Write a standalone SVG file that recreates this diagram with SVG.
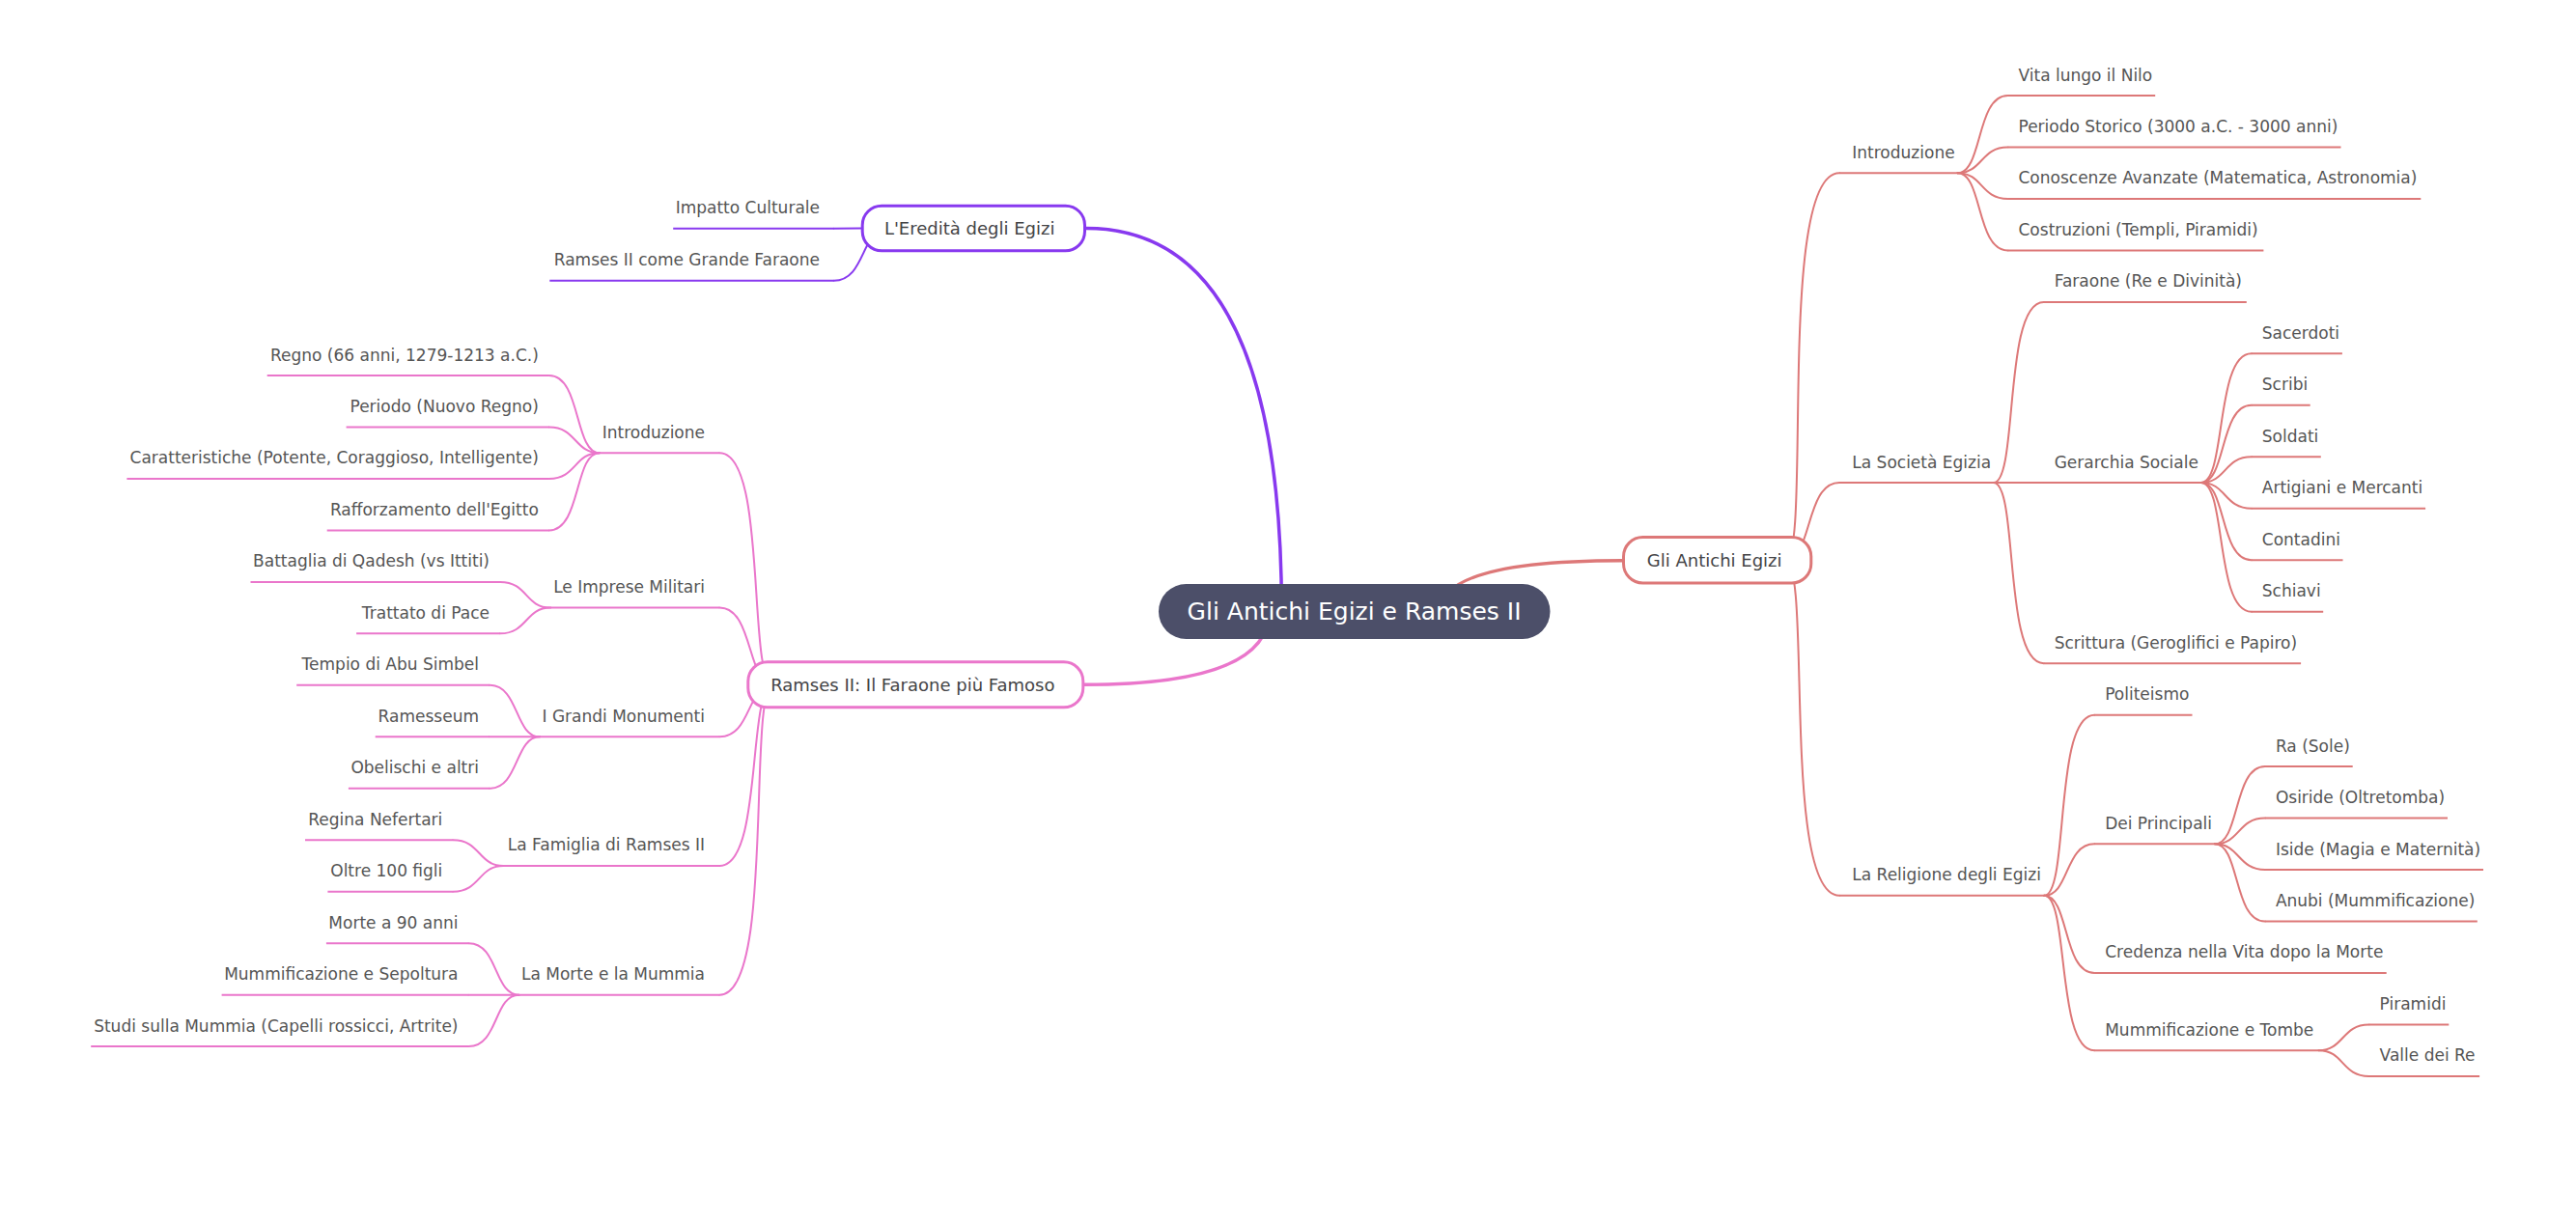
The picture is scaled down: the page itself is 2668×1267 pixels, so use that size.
<svg xmlns="http://www.w3.org/2000/svg" width="2668" height="1267" viewBox="0 0 2668 1267">
<style>
text{font-family:"DejaVu Sans","Liberation Sans",sans-serif;stroke:none}
.lk{fill:none;stroke-linecap:round}
.r{stroke:#dd7878}
.p{stroke:#ea76cb}
.v{stroke:#8839ef}
.main{stroke-width:3.5}
.sub{stroke-width:2}
.t{font-size:17px;fill:#555555}
.e{text-anchor:end}
.mt{font-size:18px;fill:#444446}
.box{fill:#ffffff;stroke-width:3}
</style>
<rect width="2668" height="1267" fill="#ffffff"/>
<g id="connectors">
<path class="lk main r" d="M1491.9 633.5 Q1491.9 580.75 1680 580.75"/>
<path class="lk main v" d="M1327.4 633.5 Q1327.4 236.4 1125 236.4"/>
<path class="lk main p" d="M1314.5 633.5 Q1314.5 709.3 1123.3 709.3"/>
<g class="lk sub r">
<path d="M1849 580.75 C1877 580.75 1839.5 179.2 1905 179.2"/>
<path d="M1849 580.75 C1877 580.75 1869.5 500 1905 500"/>
<path d="M1849 580.75 C1877 580.75 1844.6 927.8 1905 927.8"/>
<path d="M2027.5 179.2 C2053.5 179.2 2046.55 99 2079.5 99"/>
<path d="M2027.5 179.2 C2053.5 179.2 2051.2 152.47 2079.5 152.47"/>
<path d="M2027.5 179.2 C2053.5 179.2 2051.2 205.94 2079.5 205.94"/>
<path d="M2027.5 179.2 C2053.5 179.2 2046.55 259.41 2079.5 259.41"/>
<path d="M2064.7 500 C2090.7 500 2074.5 312.88 2116.7 312.88"/>
<path d="M2064.7 500 L2116.7 500"/>
<path d="M2064.7 500 C2090.7 500 2074.5 687.17 2116.7 687.17"/>
<path d="M2279.8 500 C2305.8 500 2294.2 366.35 2331.8 366.35"/>
<path d="M2279.8 500 C2305.8 500 2298.85 419.82 2331.8 419.82"/>
<path d="M2279.8 500 C2305.8 500 2303.5 473.29 2331.8 473.29"/>
<path d="M2279.8 500 C2305.8 500 2303.5 526.76 2331.8 526.76"/>
<path d="M2279.8 500 C2305.8 500 2298.85 580.23 2331.8 580.23"/>
<path d="M2279.8 500 C2305.8 500 2294.2 633.7 2331.8 633.7"/>
<path d="M2117.2 927.8 C2143.2 927.8 2127 740.64 2169.2 740.64"/>
<path d="M2117.2 927.8 C2143.2 927.8 2138.56 874.3 2169.2 874.3"/>
<path d="M2117.2 927.8 C2143.2 927.8 2136.25 1007.99 2169.2 1007.99"/>
<path d="M2117.2 927.8 C2143.2 927.8 2129.3 1088.2 2169.2 1088.2"/>
<path d="M2293.9 874.3 C2319.9 874.3 2312.95 794.11 2345.9 794.11"/>
<path d="M2293.9 874.3 C2319.9 874.3 2317.6 847.58 2345.9 847.58"/>
<path d="M2293.9 874.3 C2319.9 874.3 2317.6 901.05 2345.9 901.05"/>
<path d="M2293.9 874.3 C2319.9 874.3 2312.95 954.52 2345.9 954.52"/>
<path d="M2401.6 1088.2 C2427.6 1088.2 2425.3 1061.46 2453.6 1061.46"/>
<path d="M2401.6 1088.2 C2427.6 1088.2 2425.3 1114.93 2453.6 1114.93"/>
</g>
<g class="lk sub p">
<path d="M801.3 709.3 C773.3 709.3 795.7 469.2 745.3 469.2"/>
<path d="M801.3 709.3 C773.3 709.3 780.74 629.6 745.3 629.6"/>
<path d="M801.3 709.3 C773.3 709.3 778.34 763.29 745.3 763.29"/>
<path d="M801.3 709.3 C773.3 709.3 790.82 896.97 745.3 896.97"/>
<path d="M801.3 709.3 C773.3 709.3 803.29 1030.64 745.3 1030.64"/>
<path d="M620.8 469.2 C594.8 469.2 601.75 389 568.8 389"/>
<path d="M620.8 469.2 C594.8 469.2 597.1 442.47 568.8 442.47"/>
<path d="M620.8 469.2 C594.8 469.2 597.1 495.94 568.8 495.94"/>
<path d="M620.8 469.2 C594.8 469.2 601.75 549.41 568.8 549.41"/>
<path d="M570 629.6 C544 629.6 546.3 602.88 518 602.88"/>
<path d="M570 629.6 C544 629.6 546.3 656.35 518 656.35"/>
<path d="M559 763.29 C533 763.29 537.6 709.82 507 709.82"/>
<path d="M559 763.29 L507 763.29"/>
<path d="M559 763.29 C533 763.29 537.6 816.76 507 816.76"/>
<path d="M521.3 896.97 C495.3 896.97 497.6 870.23 469.3 870.23"/>
<path d="M521.3 896.97 C495.3 896.97 497.6 923.7 469.3 923.7"/>
<path d="M537.5 1030.64 C511.5 1030.64 516.1 977.17 485.5 977.17"/>
<path d="M537.5 1030.64 L485.5 1030.64"/>
<path d="M537.5 1030.64 C511.5 1030.64 516.1 1084.11 485.5 1084.11"/>
</g>
<g class="lk sub v">
<path d="M919.7 236.4 C891.7 236.4 891.7 236.7 863.7 236.7"/>
<path d="M919.7 236.4 C891.7 236.4 896.8 290.7 863.7 290.7"/>
</g>
</g>
<g id="root">
<rect x="1200" y="605" width="405.5" height="57" rx="28.5" fill="#4c4f69"/>
<text x="1402.6" y="642" font-size="25" fill="#ffffff" text-anchor="middle">Gli Antichi Egizi e Ramses II</text>
</g>
<g id="n-egizi">
<rect class="box r" x="1681.5" y="556.5" width="194.3" height="47.5" rx="20"/>
<text class="mt" x="1705.8" y="586.7">Gli Antichi Egizi</text>
</g>
<g id="n-ramses">
<rect class="box p" x="774.8" y="685.8" width="347" height="47" rx="20"/>
<text class="mt" x="798.2" y="716">Ramses II: Il Faraone più Famoso</text>
</g>
<g id="n-eredita">
<rect class="box v" x="893.2" y="213.2" width="230.3" height="46.5" rx="20"/>
<text class="mt" x="915.9" y="242.7">L'Eredità degli Egizi</text>
</g>
<g class="sub r">
<g id="r-intro"><line x1="1905" y1="179.2" x2="2027.5" y2="179.2"/><text class="t" x="1918.3" y="163.7">Introduzione</text></g>
<g id="r-vita"><line x1="2079.5" y1="99" x2="2232.2" y2="99"/><text class="t" x="2090.5" y="83.5">Vita lungo il Nilo</text></g>
<g id="r-periodo"><line x1="2079.5" y1="152.47" x2="2424.5" y2="152.47"/><text class="t" x="2090.5" y="136.97">Periodo Storico (3000 a.C. - 3000 anni)</text></g>
<g id="r-conoscenze"><line x1="2079.5" y1="205.94" x2="2507.3" y2="205.94"/><text class="t" x="2090.5" y="190.44">Conoscenze Avanzate (Matematica, Astronomia)</text></g>
<g id="r-costruzioni"><line x1="2079.5" y1="259.41" x2="2344.4" y2="259.41"/><text class="t" x="2090.5" y="243.91">Costruzioni (Templi, Piramidi)</text></g>
<g id="r-societa"><line x1="1905" y1="500" x2="2064.7" y2="500"/><text class="t" x="1918.3" y="484.5">La Società Egizia</text></g>
<g id="r-faraone"><line x1="2116.7" y1="312.88" x2="2326.8" y2="312.88"/><text class="t" x="2127.7" y="297.38">Faraone (Re e Divinità)</text></g>
<g id="r-gerarchia"><line x1="2116.7" y1="500" x2="2279.8" y2="500"/><text class="t" x="2127.7" y="484.5">Gerarchia Sociale</text></g>
<g id="r-sacerdoti"><line x1="2331.8" y1="366.35" x2="2425.9" y2="366.35"/><text class="t" x="2342.8" y="350.85">Sacerdoti</text></g>
<g id="r-scribi"><line x1="2331.8" y1="419.82" x2="2392.7" y2="419.82"/><text class="t" x="2342.8" y="404.32">Scribi</text></g>
<g id="r-soldati"><line x1="2331.8" y1="473.29" x2="2403.8" y2="473.29"/><text class="t" x="2342.8" y="457.79">Soldati</text></g>
<g id="r-artigiani"><line x1="2331.8" y1="526.76" x2="2512.1" y2="526.76"/><text class="t" x="2342.8" y="511.26">Artigiani e Mercanti</text></g>
<g id="r-contadini"><line x1="2331.8" y1="580.23" x2="2426.5" y2="580.23"/><text class="t" x="2342.8" y="564.73">Contadini</text></g>
<g id="r-schiavi"><line x1="2331.8" y1="633.7" x2="2406.2" y2="633.7"/><text class="t" x="2342.8" y="618.2">Schiavi</text></g>
<g id="r-scrittura"><line x1="2116.7" y1="687.17" x2="2383.1" y2="687.17"/><text class="t" x="2127.7" y="671.67">Scrittura (Geroglifici e Papiro)</text></g>
<g id="r-religione"><line x1="1905" y1="927.8" x2="2117.2" y2="927.8"/><text class="t" x="1918.3" y="912.3">La Religione degli Egizi</text></g>
<g id="r-politeismo"><line x1="2169.2" y1="740.64" x2="2270.5" y2="740.64"/><text class="t" x="2180.2" y="725.14">Politeismo</text></g>
<g id="r-dei"><line x1="2169.2" y1="874.3" x2="2293.9" y2="874.3"/><text class="t" x="2180.2" y="858.8">Dei Principali</text></g>
<g id="r-ra"><line x1="2345.9" y1="794.11" x2="2436.7" y2="794.11"/><text class="t" x="2356.9" y="778.61">Ra (Sole)</text></g>
<g id="r-osiride"><line x1="2345.9" y1="847.58" x2="2535" y2="847.58"/><text class="t" x="2356.9" y="832.08">Osiride (Oltretomba)</text></g>
<g id="r-iside"><line x1="2345.9" y1="901.05" x2="2572" y2="901.05"/><text class="t" x="2356.9" y="885.55">Iside (Magia e Maternità)</text></g>
<g id="r-anubi"><line x1="2345.9" y1="954.52" x2="2565.8" y2="954.52"/><text class="t" x="2356.9" y="939.02">Anubi (Mummificazione)</text></g>
<g id="r-credenza"><line x1="2169.2" y1="1007.99" x2="2471.7" y2="1007.99"/><text class="t" x="2180.2" y="992.49">Credenza nella Vita dopo la Morte</text></g>
<g id="r-mummificazione"><line x1="2169.2" y1="1088.2" x2="2401.6" y2="1088.2"/><text class="t" x="2180.2" y="1072.7">Mummificazione e Tombe</text></g>
<g id="r-piramidi"><line x1="2453.6" y1="1061.46" x2="2536.3" y2="1061.46"/><text class="t" x="2464.6" y="1045.96">Piramidi</text></g>
<g id="r-valle"><line x1="2453.6" y1="1114.93" x2="2568.1" y2="1114.93"/><text class="t" x="2464.6" y="1099.43">Valle dei Re</text></g>
</g>
<g class="sub p">
<g id="p-intro"><line x1="745.3" y1="469.2" x2="620.8" y2="469.2"/><text class="t e" x="730" y="453.7">Introduzione</text></g>
<g id="p-regno"><line x1="568.8" y1="389" x2="276.7" y2="389"/><text class="t e" x="557.8" y="373.5">Regno (66 anni, 1279-1213 a.C.)</text></g>
<g id="p-periodo"><line x1="568.8" y1="442.47" x2="358.6" y2="442.47"/><text class="t e" x="557.8" y="426.97">Periodo (Nuovo Regno)</text></g>
<g id="p-caratteristiche"><line x1="568.8" y1="495.94" x2="131.4" y2="495.94"/><text class="t e" x="557.8" y="480.44">Caratteristiche (Potente, Coraggioso, Intelligente)</text></g>
<g id="p-rafforzamento"><line x1="568.8" y1="549.41" x2="338.7" y2="549.41"/><text class="t e" x="557.8" y="533.91">Rafforzamento dell'Egitto</text></g>
<g id="p-imprese"><line x1="745.3" y1="629.6" x2="570" y2="629.6"/><text class="t e" x="730" y="614.1">Le Imprese Militari</text></g>
<g id="p-qadesh"><line x1="518" y1="602.88" x2="259.5" y2="602.88"/><text class="t e" x="507" y="587.38">Battaglia di Qadesh (vs Ittiti)</text></g>
<g id="p-trattato"><line x1="518" y1="656.35" x2="369.1" y2="656.35"/><text class="t e" x="507" y="640.85">Trattato di Pace</text></g>
<g id="p-monumenti"><line x1="745.3" y1="763.29" x2="559" y2="763.29"/><text class="t e" x="730" y="747.79">I Grandi Monumenti</text></g>
<g id="p-abusimbel"><line x1="507" y1="709.82" x2="307.2" y2="709.82"/><text class="t e" x="496" y="694.32">Tempio di Abu Simbel</text></g>
<g id="p-ramesseum"><line x1="507" y1="763.29" x2="388.7" y2="763.29"/><text class="t e" x="496" y="747.79">Ramesseum</text></g>
<g id="p-obelischi"><line x1="507" y1="816.76" x2="360.9" y2="816.76"/><text class="t e" x="496" y="801.26">Obelischi e altri</text></g>
<g id="p-famiglia"><line x1="745.3" y1="896.97" x2="521.3" y2="896.97"/><text class="t e" x="730" y="881.47">La Famiglia di Ramses II</text></g>
<g id="p-nefertari"><line x1="469.3" y1="870.23" x2="316" y2="870.23"/><text class="t e" x="458.3" y="854.73">Regina Nefertari</text></g>
<g id="p-figli"><line x1="469.3" y1="923.7" x2="339.4" y2="923.7"/><text class="t e" x="458.3" y="908.2">Oltre 100 figli</text></g>
<g id="p-morte"><line x1="745.3" y1="1030.64" x2="537.5" y2="1030.64"/><text class="t e" x="730" y="1015.14">La Morte e la Mummia</text></g>
<g id="p-90anni"><line x1="485.5" y1="977.17" x2="337.9" y2="977.17"/><text class="t e" x="474.5" y="961.67">Morte a 90 anni</text></g>
<g id="p-sepoltura"><line x1="485.5" y1="1030.64" x2="229.6" y2="1030.64"/><text class="t e" x="474.5" y="1015.14">Mummificazione e Sepoltura</text></g>
<g id="p-studi"><line x1="485.5" y1="1084.11" x2="94.2" y2="1084.11"/><text class="t e" x="474.5" y="1068.61">Studi sulla Mummia (Capelli rossicci, Artrite)</text></g>
</g>
<g class="sub v">
<g id="v-impatto"><line x1="863.7" y1="236.7" x2="697.2" y2="236.7"/><text class="t e" x="849" y="221.2">Impatto Culturale</text></g>
<g id="v-ramses"><line x1="863.7" y1="290.7" x2="569.3" y2="290.7"/><text class="t e" x="849" y="275.2">Ramses II come Grande Faraone</text></g>
</g>
</svg>
